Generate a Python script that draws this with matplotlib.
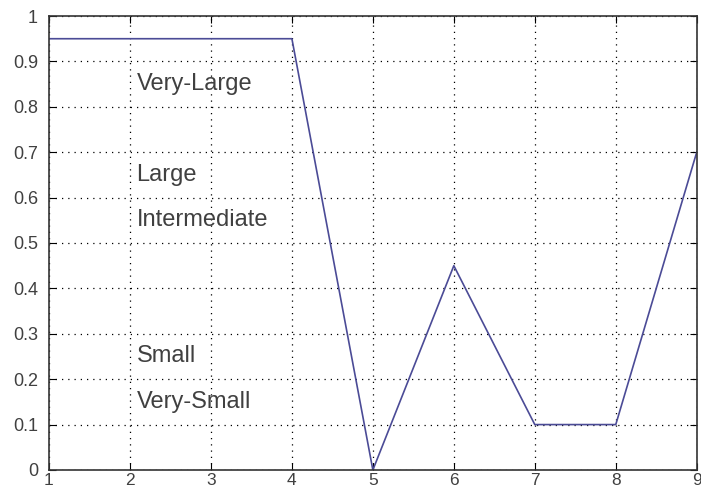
import matplotlib
matplotlib.use("Agg")
import matplotlib.pyplot as plt

x = [1, 4, 5, 6, 7, 8, 9]
y = [0.95, 0.95, 0.0, 0.45, 0.1, 0.1, 0.7]

labels = ["Very-Large", "Large", "Intermediate", "Small", "Very-Small"]
label_y = [0.85, 0.65, 0.55, 0.25, 0.15]
label_x = 2.08

plt.rcParams["font.family"] = ["Liberation Sans", "DejaVu Sans"]

fig = plt.figure(figsize=(7.01, 4.93), dpi=100)
ax = fig.add_axes([0.0699, 0.0467, 0.924, 0.9208])

ax.plot(x, y, color="#4b4b96", linewidth=1.2)

for lab, ly in zip(labels, label_y):
    ax.text(label_x, ly, lab, fontsize=17, color="#404040", va="center", ha="left")

ax.set_xlim(1, 9)
ax.set_ylim(0, 1)
ax.set_xticks(range(1, 10))
ax.set_yticks([i / 10 for i in range(11)])
ax.set_yticklabels(["0", "0.1", "0.2", "0.3", "0.4", "0.5", "0.6", "0.7", "0.8", "0.9", "1"])
ax.grid(True, linestyle=(0, (1, 4)), color="black", linewidth=0.9)
ax.tick_params(direction="in", length=5, labelsize=13, labelcolor="#404040", top=True, right=True)
ax.tick_params(axis="y", pad=8)
ax.tick_params(axis="x", pad=2, labelsize=12.5)
for s in ax.spines.values():
    s.set_linewidth(1.2)
    s.set_color("#333333")

fig.savefig("out.png", dpi=100)
